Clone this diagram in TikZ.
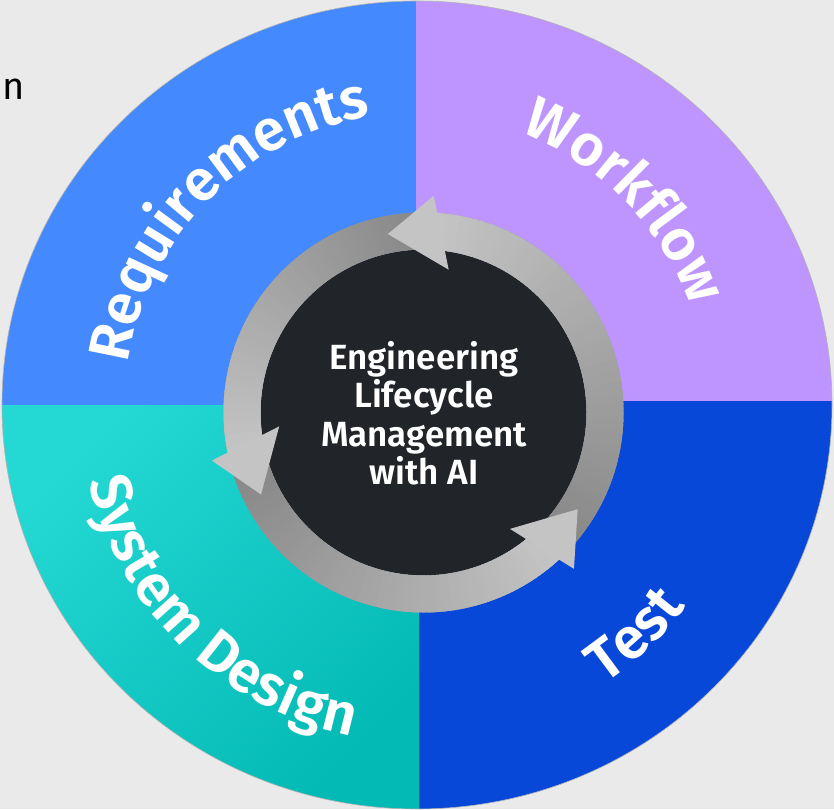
\documentclass[tikz,border=0pt]{standalone}
\usepackage{fontspec}
\setmainfont{Fira Sans}[BoldFont={* SemiBold}]
\usetikzlibrary{calc,decorations.text}
\definecolor{bg}{HTML}{EAEAEA}
\definecolor{reqblue}{HTML}{4589FF}
\definecolor{wfpurple}{HTML}{BE95FF}
\definecolor{testblue}{HTML}{0848D8}
\definecolor{teallight}{HTML}{24D8D4}
\definecolor{tealdark}{HTML}{04BAB5}
\definecolor{core}{HTML}{212529}
\definecolor{ringdark}{HTML}{868686}
\definecolor{ringlight}{HTML}{C4C4C4}
\definecolor{headcol}{HTML}{C4C4C4}
\newcommand\arcfont{\fontsize{58}{58}\selectfont\bfseries}
\tikzset{
  arclabel/.style={decorate, decoration={text along path, text={#1}, text align=center, text color=white}},
  headshape/.style={fill=headcol}
}
\begin{document}
\begin{tikzpicture}[x=1pt,y=1pt]
\useasboundingbox (0,0) rectangle (834,809);
\fill[bg] (0,0) rectangle (834,809);
\coordinate (O) at (417,404);
\coordinate (C) at (423.5,396.5);
% quadrants
\begin{scope}
\clip (O) ellipse [x radius=415, y radius=404];
\fill[reqblue] (0,403) rectangle (416,809);
\fill[wfpurple] (416,408) rectangle (834,809);
\fill[testblue] (419,0) rectangle (834,408);
\shade[top color=teallight, bottom color=tealdark, shading angle=45] (0,0) rectangle (419,403);
\end{scope}
\draw[gray!60, line width=0.6pt] (O) ellipse [x radius=415, y radius=404];
% arc labels
\path[arclabel={|\arcfont|Requirements}] ($(O)+(181:292)$) arc[start angle=181, end angle=90, radius=292];
\path[arclabel={|\arcfont|Workflow}] ($(O)+(78:291)$) arc[start angle=78, end angle=11, radius=291];
\path[arclabel={|\arcfont|Test}] ($(O)+(-66:336)$) arc[start angle=-66, end angle=-27, radius=336];
\path[arclabel={|\arcfont|System Design}] ($(O)+(182:337)$) arc[start angle=182, end angle=270, radius=337];
% core
\fill[core] (C) circle[radius=163];
% base ring
\fill[ringdark!70!ringlight, even odd rule] (C) circle[radius=200] (C) circle[radius=163];
% arrow bodies with gradient
\foreach \a/\b in {-48/86, 88/191.5, 194/312.6} {
  \foreach \i in {0,...,79} {
    \pgfmathsetmacro{\s}{\a+(\b-\a)*\i/80}
    \pgfmathsetmacro{\e}{\a+(\b-\a)*(\i+1)/80+1}
    \pgfmathtruncatemacro{\p}{\i*100/79}
    \fill[ringlight!\p!ringdark] ($(C)+(\s:163)$) arc[start angle=\s, end angle=\e, radius=163]
      -- ($(C)+(\e:200)$) arc[start angle=\e, end angle=\s, radius=200] -- cycle;
  }
}
% arrow heads
\foreach \t in {80, 185.5, 306.6} {
  \fill[headshape] ($(C)+(\t:145)$) -- ($(C)+(\t+7.3:217)$) -- ($(C)+(\t+21.3:182)$) -- cycle;
}
\node[text=white, align=center, font=\fontsize{35}{38.5}\selectfont\bfseries] (title) at (424,396)
  {Engineering\\Lifecycle\\Management\\with AI};
\node[anchor=base west, inner sep=0pt, text=black, font=\fontsize{38}{38}\selectfont] (stray) at (2,709) {n};
\end{tikzpicture}
\end{document}
